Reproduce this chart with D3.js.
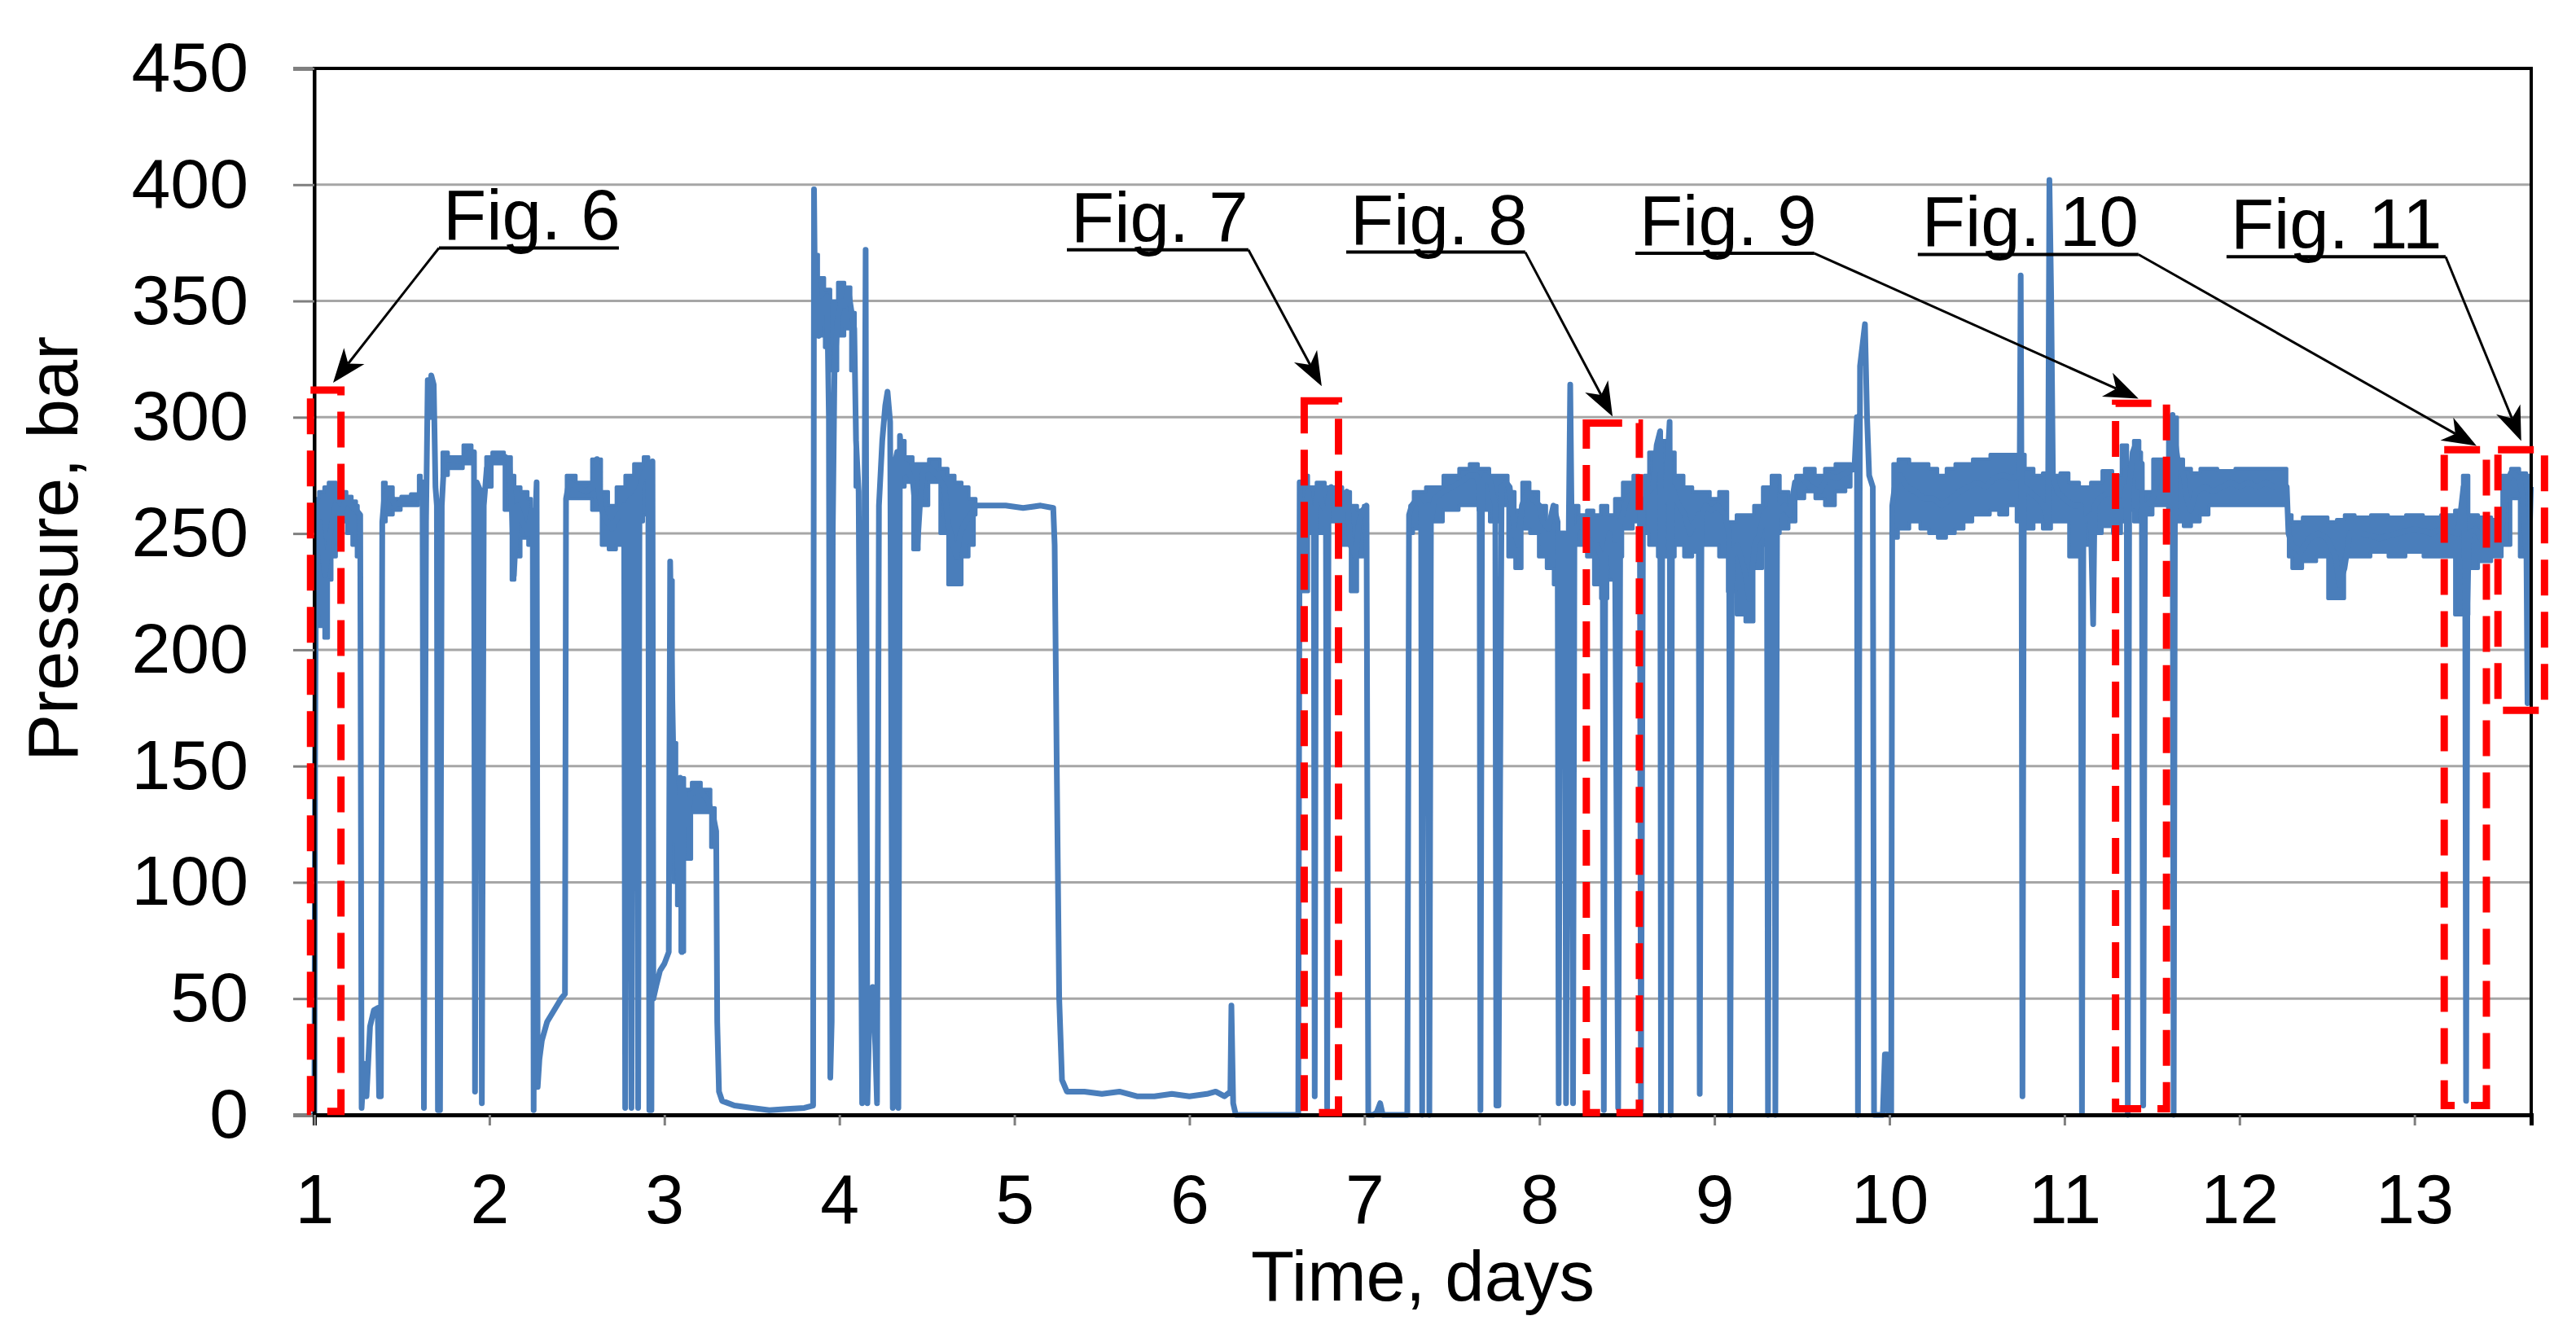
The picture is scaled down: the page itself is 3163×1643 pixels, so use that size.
<!doctype html>
<html>
<head>
<meta charset="utf-8">
<title>Pressure, bar</title>
<script src="https://d3js.org/d3.v7.min.js"></script>
<style>
  body { margin: 0; background: #fff; }
  svg { display: block; }
  text { font-family: "Liberation Sans", Arial, sans-serif; fill: #000; }
</style>
</head>
<body>
<script>
// tick values
var dayTicks = [1, 2, 3, 4, 5, 6, 7, 8, 9, 10, 11, 12, 13];
var pressureTicks = [0, 50, 100, 150, 200, 250, 300, 350, 400, 450];

// pressure trace: [day, bar]
var pressureTrace = [
  [1.000, 0], [1.004, 150], [1.010, 245], [1.030, 255], [1.060, 232], [1.090, 250], [1.120, 262], [1.150, 258],
  [1.180, 265], [1.210, 262], [1.240, 260], [1.262, 258], [1.270, 3], [1.285, 22], [1.298, 8], [1.318, 38],
  [1.340, 45], [1.362, 46], [1.370, 8], [1.380, 8], [1.388, 255], [1.400, 266], [1.430, 268], [1.460, 262],
  [1.500, 264], [1.550, 265], [1.600, 266], [1.618, 272], [1.626, 3], [1.638, 255], [1.648, 316], [1.658, 300],
  [1.668, 318], [1.682, 314], [1.692, 270], [1.700, 262], [1.706, 2], [1.718, 2], [1.728, 262], [1.742, 282],
  [1.780, 282], [1.820, 281], [1.860, 283], [1.890, 285], [1.912, 285], [1.918, 10], [1.928, 272], [1.950, 268],
  [1.957, 5], [1.968, 262], [1.985, 278], [2.010, 282], [2.050, 284], [2.090, 283], [2.112, 282], [2.128, 262],
  [2.140, 232], [2.160, 262], [2.190, 255], [2.220, 250], [2.240, 260], [2.248, 255], [2.253, 2], [2.262, 255],
  [2.270, 272], [2.276, 12], [2.286, 24], [2.300, 32], [2.330, 40], [2.370, 45], [2.410, 50], [2.432, 52],
  [2.438, 265], [2.455, 272], [2.500, 270], [2.550, 268], [2.592, 270], [2.615, 282], [2.628, 266], [2.650, 258],
  [2.700, 252], [2.740, 258], [2.770, 262], [2.776, 3], [2.786, 262], [2.806, 265], [2.812, 3], [2.822, 265],
  [2.845, 268], [2.850, 3], [2.858, 270], [2.885, 276], [2.908, 280], [2.914, 2], [2.926, 2], [2.932, 281],
  [2.937, 50], [2.955, 56], [2.975, 62], [3.000, 65], [3.025, 70], [3.033, 238], [3.040, 200], [3.050, 160],
  [3.060, 118], [3.070, 130], [3.080, 100], [3.090, 145], [3.100, 70], [3.110, 140], [3.130, 125], [3.150, 138],
  [3.200, 140], [3.250, 135], [3.280, 128], [3.296, 122], [3.302, 40], [3.312, 10], [3.330, 6], [3.400, 4],
  [3.500, 3], [3.600, 2], [3.700, 2.5], [3.800, 3], [3.850, 4],
  [3.855, 398], [3.862, 340], [3.872, 355], [3.882, 335], [3.900, 350], [3.915, 345], [3.930, 352], [3.940, 300],
  [3.948, 16], [3.956, 40], [3.962, 250], [3.972, 320], [3.990, 342], [4.010, 350], [4.030, 348], [4.050, 355],
  [4.070, 345], [4.085, 338], [4.095, 290], [4.110, 268], [4.130, 5], [4.150, 372], [4.160, 5], [4.172, 45],
  [4.190, 55], [4.205, 30], [4.215, 5], [4.226, 262], [4.245, 290], [4.262, 305], [4.275, 311], [4.290, 298],
  [4.305, 3], [4.316, 280], [4.330, 285], [4.337, 3], [4.346, 292], [4.362, 276], [4.380, 280], [4.400, 276],
  [4.420, 272], [4.438, 258], [4.446, 245], [4.460, 262], [4.480, 277], [4.520, 278], [4.560, 275], [4.600, 270],
  [4.620, 255], [4.650, 245], [4.670, 240], [4.690, 250], [4.720, 255], [4.750, 258], [4.780, 262], [4.850, 262],
  [4.950, 262], [5.050, 261], [5.150, 262], [5.222, 261], [5.230, 245], [5.242, 150], [5.256, 50], [5.272, 15],
  [5.300, 10], [5.400, 10], [5.500, 9], [5.600, 10], [5.700, 8], [5.800, 8], [5.900, 9], [6.000, 8],
  [6.100, 9], [6.150, 10], [6.200, 8], [6.234, 10], [6.240, 47], [6.250, 5], [6.265, 0], [6.400, 0],
  [6.500, 0], [6.622, 0],
  [6.630, 272], [6.645, 240], [6.660, 260], [6.680, 268], [6.700, 255], [6.711, 250], [6.716, 8], [6.723, 265],
  [6.740, 270], [6.760, 262], [6.780, 260], [6.787, 3], [6.795, 265], [6.810, 270], [6.830, 262], [6.860, 268],
  [6.880, 265], [6.900, 268], [6.920, 245], [6.950, 240], [6.970, 255], [6.990, 260], [7.012, 262], [7.022, 0],
  [7.050, 0], [7.070, 1], [7.090, 5], [7.105, 0], [7.245, 0], [7.255, 258], [7.270, 262], [7.300, 265],
  [7.324, 262], [7.330, 0], [7.340, 260], [7.364, 262], [7.371, 0], [7.380, 255], [7.400, 265], [7.450, 268],
  [7.500, 270], [7.550, 272], [7.600, 275], [7.640, 275], [7.658, 270], [7.663, 2], [7.672, 270], [7.690, 275],
  [7.720, 272], [7.748, 262], [7.754, 4], [7.766, 4], [7.784, 270], [7.810, 272], [7.830, 270], [7.860, 250],
  [7.880, 245], [7.900, 262], [7.930, 268], [7.960, 265], [8.000, 262], [8.020, 255], [8.050, 252], [8.080, 262],
  [8.104, 255], [8.110, 5], [8.120, 250], [8.146, 250], [8.152, 5], [8.168, 255], [8.176, 314], [8.184, 255],
  [8.192, 5], [8.200, 250], [8.230, 255], [8.260, 250], [8.300, 245], [8.330, 245], [8.362, 238], [8.368, 2],
  [8.376, 240], [8.400, 250], [8.420, 232], [8.432, 245], [8.450, 3], [8.462, 255], [8.500, 265], [8.540, 268],
  [8.574, 262], [8.580, 2], [8.592, 262], [8.620, 268],
  [8.650, 270], [8.670, 288], [8.690, 294], [8.695, 0], [8.702, 262], [8.720, 265], [8.744, 298], [8.750, 0],
  [8.758, 270], [8.780, 265], [8.800, 262], [8.830, 258], [8.860, 250], [8.890, 255], [8.910, 258], [8.916, 9],
  [8.926, 258], [8.950, 262], [8.980, 260], [9.020, 262], [9.060, 258], [9.084, 250], [9.090, 0], [9.100, 240],
  [9.130, 245], [9.170, 235], [9.200, 222], [9.230, 245], [9.260, 250], [9.280, 258], [9.300, 260], [9.306, 0],
  [9.316, 260], [9.342, 274], [9.348, 0], [9.358, 262], [9.380, 260], [9.400, 262], [9.430, 258], [9.460, 272],
  [9.500, 274], [9.550, 270], [9.600, 268], [9.650, 275], [9.700, 274], [9.750, 276], [9.800, 278], [9.814, 300],
  [9.820, 0], [9.832, 322], [9.860, 340], [9.872, 300], [9.884, 275], [9.905, 270], [9.912, 0], [9.930, 0],
  [9.962, 0], [9.974, 26], [9.986, 26], [9.996, 0], [10.010, 0], [10.016, 262], [10.030, 270], [10.060, 275],
  [10.100, 270], [10.150, 268], [10.200, 265], [10.250, 265], [10.300, 262], [10.350, 265], [10.400, 268], [10.450, 270],
  [10.500, 272], [10.550, 270], [10.600, 274], [10.650, 275], [10.700, 274], [10.744, 275], [10.750, 361], [10.755, 260],
  [10.760, 8], [10.768, 270], [10.800, 268], [10.850, 265], [10.880, 262], [10.906, 255], [10.914, 402], [10.924, 352],
  [10.934, 275], [10.960, 268], [11.000, 265], [11.050, 262], [11.094, 262], [11.100, 1], [11.108, 255], [11.150, 258],
  [11.164, 211], [11.172, 262], [11.200, 265], [11.250, 268],
  [11.300, 265], [11.330, 262], [11.356, 270], [11.362, 0], [11.370, 270], [11.390, 285], [11.410, 289], [11.425, 270],
  [11.442, 280], [11.450, 4], [11.460, 262], [11.500, 264], [11.540, 275], [11.570, 278], [11.600, 282], [11.618, 301],
  [11.624, 0], [11.632, 290], [11.650, 280], [11.680, 275], [11.700, 265], [11.720, 260], [11.750, 268], [11.800, 270],
  [11.850, 268], [11.900, 270], [11.950, 272], [12.000, 270], [12.050, 272], [12.100, 270], [12.150, 272], [12.200, 270],
  [12.270, 270], [12.280, 250], [12.300, 245], [12.350, 242], [12.400, 248], [12.450, 250], [12.500, 248], [12.550, 240],
  [12.570, 228], [12.600, 235], [12.630, 250], [12.700, 250], [12.800, 248], [12.900, 250], [13.000, 252], [13.100, 250],
  [13.150, 252], [13.250, 250], [13.280, 270], [13.290, 230], [13.295, 6], [13.302, 220], [13.312, 250], [13.350, 252],
  [13.400, 245], [13.450, 250], [13.500, 252], [13.520, 270], [13.550, 276], [13.600, 274], [13.620, 265], [13.640, 240],
  [13.646, 177], [13.655, 240], [13.665, 270]
];

// spread of the noisy stretches: [day, low, high], null between stretches
var noiseBand = [
  [1.01, 215, 265], [1.04, 210, 268], [1.07, 205, 270], [1.09, 230, 272], [1.11, 240, 272], [1.14, 245, 270],
  [1.17, 255, 268], [1.20, 250, 266], [1.23, 245, 264], [1.25, 240, 262], null,
  [1.39, 255, 272], [1.43, 258, 270], [1.47, 260, 265], [1.52, 262, 266], [1.58, 262, 267], [1.61, 265, 275], null,
  [1.73, 275, 285], [1.80, 278, 283], [1.90, 280, 288], null,
  [1.98, 270, 283], [2.05, 280, 285], [2.12, 260, 283], [2.13, 230, 275], [2.16, 240, 270], [2.20, 248, 268],
  [2.24, 245, 265], null,
  [2.44, 265, 275], [2.55, 265, 272], [2.62, 260, 282], [2.66, 245, 268], [2.70, 243, 262], [2.75, 245, 270],
  [2.80, 250, 275], [2.85, 255, 280], [2.91, 258, 283], null,
  [3.04, 150, 230], [3.06, 100, 160], [3.08, 90, 145], [3.10, 70, 145], [3.13, 110, 140], [3.18, 130, 143],
  [3.24, 130, 140], [3.29, 115, 132], null,
  [3.86, 335, 370], [3.90, 335, 360], [3.93, 330, 355], [3.97, 320, 350], [4.01, 335, 358], [4.05, 338, 356],
  [4.08, 320, 345], [4.10, 270, 300], null,
  [4.35, 270, 290], [4.40, 272, 283], [4.44, 243, 280], [4.47, 262, 280], [4.55, 272, 282], [4.60, 250, 278],
  [4.64, 228, 275], [4.68, 228, 272], [4.72, 240, 270], [4.76, 245, 265], [4.78, 258, 265], null,
  [6.63, 230, 272], [6.66, 225, 275], [6.70, 250, 270], [6.75, 250, 272], [6.80, 255, 270], [6.85, 255, 270],
  [6.90, 245, 268], [6.94, 225, 262], [6.98, 240, 260], [7.01, 250, 262], null,
  [7.26, 250, 262], [7.30, 252, 268], [7.40, 255, 270], [7.50, 260, 275], [7.58, 262, 278], [7.62, 262, 280],
  [7.68, 260, 278], [7.75, 255, 275], [7.80, 262, 275], [7.84, 240, 268], [7.88, 235, 260], [7.92, 252, 272],
  [7.97, 250, 268], [8.02, 240, 262], [8.06, 235, 255], [8.10, 228, 262], null,
  [8.20, 245, 262], [8.25, 245, 258], [8.29, 240, 260], [8.33, 228, 258], [8.37, 222, 262], [8.41, 230, 258],
  [8.45, 240, 265], [8.50, 252, 272], [8.57, 255, 275], null,
  [8.60, 250, 275], [8.65, 245, 285], [8.70, 240, 290], [8.75, 240, 285], [8.80, 245, 275], [8.85, 240, 270],
  [8.90, 242, 268], [8.95, 245, 268], [9.00, 245, 265], [9.05, 240, 268], [9.10, 225, 255], [9.15, 215, 258],
  [9.20, 212, 258], [9.25, 235, 262], [9.30, 245, 270], [9.35, 250, 275], [9.40, 252, 268], [9.45, 255, 262],
  [9.48, 265, 275], [9.55, 268, 278], [9.60, 265, 275], [9.66, 262, 278], [9.72, 268, 280], [9.78, 270, 280], null,
  [10.02, 248, 280], [10.08, 252, 282], [10.15, 255, 280], [10.20, 252, 280], [10.25, 250, 278], [10.30, 248, 275],
  [10.35, 250, 278], [10.40, 252, 280], [10.45, 255, 280], [10.50, 258, 282], [10.55, 258, 282], [10.60, 260, 284],
  [10.65, 258, 284], [10.70, 262, 284], [10.75, 255, 284], [10.80, 252, 278], [10.85, 255, 275], [10.90, 252, 276],
  [10.95, 255, 275], [11.00, 255, 276], [11.05, 240, 272], [11.12, 245, 270], [11.18, 250, 272], [11.25, 253, 277],
  [11.30, 250, 275], [11.35, 255, 288], [11.37, 260, 280], [11.42, 255, 290], [11.44, 260, 285], null,
  [11.46, 258, 268], [11.55, 262, 282], [11.63, 260, 300], [11.66, 255, 282], [11.70, 253, 278], [11.75, 255, 276],
  [11.80, 258, 278], [11.85, 262, 278], [11.90, 262, 277], [11.95, 262, 277], [12.00, 262, 278], [12.10, 262, 278],
  [12.20, 262, 278], [12.27, 262, 278], null,
  [12.28, 240, 258], [12.32, 235, 255], [12.40, 238, 257], [12.48, 240, 257], [12.53, 222, 255], [12.58, 222, 256],
  [12.62, 240, 258], [12.70, 240, 257], [12.80, 242, 258], [12.90, 240, 257], [13.00, 242, 258], [13.10, 240, 257],
  [13.20, 240, 258], [13.26, 215, 260], [13.29, 215, 275], [13.33, 235, 258], [13.40, 238, 257], [13.48, 240, 256],
  [13.52, 245, 275], [13.58, 265, 278], [13.62, 240, 276], [13.66, 235, 275]
];

// call-outs
var figNames = ["Fig. 6", "Fig. 7", "Fig. 8", "Fig. 9", "Fig. 10", "Fig. 11"];
var figBoxes = [ // [day from, day to, bar from, bar to]
  [0.978, 1.152, 1.5, 311.7], [6.656, 6.852, 1, 307], [8.268, 8.571, 1, 297.5],
  [11.292, 11.583, 2.6, 306], [13.170, 13.411, 4, 286], [13.477, 13.743, 174, 286]
];
var figUnderline = [ // [day from, day to, bar]
  [1.712, 2.740, 372.8], [5.300, 6.337, 372], [6.896, 7.919, 371],
  [8.548, 9.571, 370.5], [10.162, 11.423, 370], [11.926, 13.178, 369]
];
var figLeaderFromEnd = [false, true, true, true, true, true];
var figTips = [[1.107, 314.8], [6.756, 313.3], [8.418, 300.3], [11.423, 308], [13.355, 287.7], [13.610, 289.8]];

var W = 3163, H = 1643;
var plotLeft = 386, plotRight = 3108, plotTop = 84, plotBottom = 1369;

var svg = d3.select("body").append("svg")
  .attr("width", W)
  .attr("height", H);

var x = d3.scaleLinear().domain([1, 13.667]).range([plotLeft, plotRight]);
var y = d3.scaleLinear().domain([0, 450]).range([plotBottom, plotTop]);

// grid
svg.append("g")
  .selectAll("line")
  .data(pressureTicks.filter(function(d){ return d > 0 && d < 450; }))
  .enter().append("line")
  .attr("x1", plotLeft).attr("x2", plotRight)
  .attr("y1", function(d){ return y(d); })
  .attr("y2", function(d){ return y(d); })
  .attr("stroke", "#a6a6a6")
  .attr("stroke-width", 3);

// noisy stretches
var band = d3.area()
  .defined(function(d){ return d !== null; })
  .x(function(d){ return x(d[0]); })
  .y0(function(d){ return y(d[1]); })
  .y1(function(d){ return y(d[2]); })
  .curve(d3.curveStep);

svg.append("path")
  .datum(noiseBand)
  .attr("d", band)
  .attr("fill", "#4a7ebb")
  .attr("stroke", "#4a7ebb")
  .attr("stroke-width", 4)
  .attr("stroke-linejoin", "round");

// pressure line
var line = d3.line()
  .x(function(d){ return x(d[0]); })
  .y(function(d){ return y(d[1]); });

svg.append("path")
  .datum(pressureTrace)
  .attr("d", line)
  .attr("fill", "none")
  .attr("stroke", "#4a7ebb")
  .attr("stroke-width", 7)
  .attr("stroke-linejoin", "round");

// frame
svg.append("rect")
  .attr("x", plotLeft).attr("y", plotTop)
  .attr("width", plotRight - plotLeft).attr("height", plotBottom - plotTop)
  .attr("fill", "none")
  .attr("stroke", "#000")
  .attr("stroke-width", 4);

// axes
var yAxis = svg.append("g")
  .attr("transform", "translate(" + plotLeft + ",0)")
  .call(d3.axisLeft(y).tickValues(pressureTicks).tickSize(26).tickPadding(55).tickFormat(d3.format("d")));
yAxis.select(".domain").attr("stroke", "#000").attr("stroke-width", 4);
yAxis.selectAll(".tick line").attr("stroke", "#7f7f7f").attr("stroke-width", 3);
yAxis.selectAll(".tick text").attr("font-size", 86).attr("font-family", "Liberation Sans, Arial, sans-serif");

var xAxis = svg.append("g")
  .attr("transform", "translate(0," + plotBottom + ")")
  .call(d3.axisBottom(x).tickValues(dayTicks).tickSize(13).tickPadding(59).tickFormat(d3.format("d")));
xAxis.select(".domain").attr("stroke", "#000").attr("stroke-width", 5);
xAxis.selectAll(".tick line").attr("stroke", "#7f7f7f").attr("stroke-width", 3);
xAxis.selectAll(".tick text").attr("font-size", 86).attr("font-family", "Liberation Sans, Arial, sans-serif");

// axis titles
svg.append("text")
  .attr("x", (plotLeft + plotRight) / 2)
  .attr("y", 1597)
  .attr("text-anchor", "middle")
  .attr("font-size", 87)
  .text("Time, days");

svg.append("text")
  .attr("transform", "translate(95,935) rotate(-90)")
  .attr("text-anchor", "start")
  .attr("font-size", 87)
  .text("Pressure,  bar");

// red dashed boxes
svg.append("g")
  .selectAll("rect")
  .data(figBoxes)
  .enter().append("rect")
  .attr("x", function(d){ return x(d[0]); })
  .attr("y", function(d){ return y(d[3]); })
  .attr("width", function(d){ return x(d[1]) - x(d[0]); })
  .attr("height", function(d){ return y(d[2]) - y(d[3]); })
  .attr("fill", "none")
  .attr("stroke", "#ff0000")
  .attr("stroke-width", 9)
  .attr("stroke-dasharray", "44,20");

// labels, underlines, leaders, arrowheads
var notes = svg.append("g");
figNames.forEach(function(name, i){
  var u = figUnderline[i];
  var ux0 = x(u[0]), ux1 = x(u[1]), uy = y(u[2]);
  notes.append("text")
    .attr("x", ux0 + 5)
    .attr("y", uy - 10)
    .attr("font-size", 87)
    .text(name);
  notes.append("line")
    .attr("x1", ux0).attr("x2", ux1)
    .attr("y1", uy).attr("y2", uy)
    .attr("stroke", "#000").attr("stroke-width", 4);

  var sx = figLeaderFromEnd[i] ? ux1 : ux0;
  var tx = x(figTips[i][0]), ty = y(figTips[i][1]);
  var ang = Math.atan2(ty - uy, tx - sx);
  var len = 42, half = 16, notch = 30;
  var bx = tx - len * Math.cos(ang), by = ty - len * Math.sin(ang);
  notes.append("line")
    .attr("x1", sx).attr("y1", uy)
    .attr("x2", tx - notch * Math.cos(ang)).attr("y2", ty - notch * Math.sin(ang))
    .attr("stroke", "#000").attr("stroke-width", 3);
  var px = -Math.sin(ang), py = Math.cos(ang);
  var pts = [
    [tx, ty],
    [bx + half * px, by + half * py],
    [tx - notch * Math.cos(ang), ty - notch * Math.sin(ang)],
    [bx - half * px, by - half * py]
  ];
  notes.append("path")
    .attr("d", "M" + pts.map(function(p){ return p[0] + "," + p[1]; }).join("L") + "Z")
    .attr("fill", "#000");
});
</script>
</body>
</html>
